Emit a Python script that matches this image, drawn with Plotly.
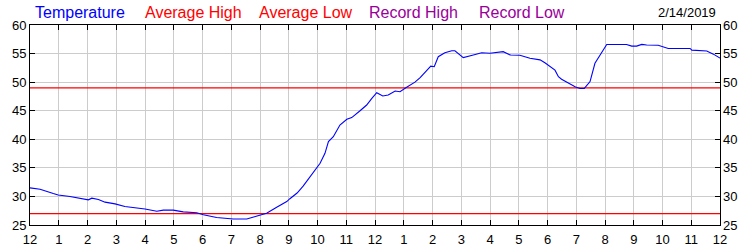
import plotly.graph_objects as go

# Hours since midnight (0 = 12 AM, 24 = next 12 AM) and temperature (°F)
hours = [0.0, 0.35, 0.81, 0.98, 1.39, 1.85, 2.03, 2.15, 2.38, 2.61, 2.96, 3.30, 3.71, 4.0,
         4.41, 4.64, 4.98, 5.33, 5.80, 6.03, 6.49, 7.07, 7.54, 8.0, 8.23, 8.58, 8.93, 9.04,
         9.29, 9.50, 9.74, 9.91, 10.09, 10.26, 10.38, 10.55, 10.78, 11.02, 11.19, 11.48,
         11.71, 11.89, 12.06, 12.27, 12.46, 12.70, 12.87, 13.10, 13.39, 13.57, 13.80, 13.94,
         14.06, 14.20, 14.43, 14.67, 14.78, 15.07, 15.42, 15.71, 16.0, 16.46, 16.70, 17.04,
         17.39, 17.74, 17.91, 18.26, 18.38, 18.49, 18.96, 19.13, 19.28, 19.48, 19.65, 19.89,
         20.06, 20.75, 20.93, 21.10, 21.28, 21.45, 21.85, 22.20, 22.96, 23.02, 23.54, 23.77, 24.0]
temps = [31.5, 31.25, 30.5, 30.25, 30.0, 29.5, 29.4, 29.7, 29.45, 29.0, 28.7, 28.25, 28.0, 27.8,
         27.4, 27.6, 27.6, 27.3, 27.15, 26.8, 26.3, 26.05, 26.05, 26.75, 27.05, 28.1, 29.1, 29.6,
         30.6, 31.8, 33.4, 34.74, 35.8, 37.55, 39.6, 40.45, 42.5, 43.5, 43.8, 45.0,
         46.0, 47.17, 48.15, 47.57, 47.75, 48.45, 48.33, 49.1, 50.0, 50.8, 52.0, 52.8,
         52.7, 54.45, 55.15, 55.5, 55.5, 54.3, 54.75, 55.15, 55.05, 55.33, 54.75, 54.7,
         54.17, 53.9, 53.4, 52.1, 50.95, 50.5, 49.2, 48.9, 48.9, 50.1, 53.3, 55.15,
         56.6, 56.6, 56.3, 56.3, 56.6, 56.5, 56.45, 55.9, 55.9, 55.6, 55.45, 54.9, 54.2]
avg_high = 49
avg_low = 27
x_tick_vals = list(range(0, 25))
x_tick_text = ["12"] + [str(i) for i in range(1, 12)] + ["12"] + [str(i) for i in range(1, 12)] + ["12"]
y_tick_vals = [25, 30, 35, 40, 45, 50, 55, 60]
legend_items = [("Temperature", "#0000ff"), ("Average High", "#ff0000"), ("Average Low", "#ff0000"),
                ("Record High", "#990099"), ("Record Low", "#990099")]
legend_x = [33, 143, 257, 367, 477]
date_text = "2/14/2019"

FONT = "Liberation Sans, Arial, sans-serif"
L, R, T, B = 30, 30, 25, 25
W, H = 750, 250
PW, PH = W - L - R, H - T - B


def px_to_paper(xp, yp):
    return (xp - L) / PW, (H - B - yp) / PH


fig = go.Figure()
fig.add_trace(go.Scatter(x=[0, 24], y=[avg_high, avg_high], mode="lines",
                         line=dict(color="#ff0000", width=1.3), hoverinfo="skip"))
fig.add_trace(go.Scatter(x=[0, 24], y=[avg_low, avg_low], mode="lines",
                         line=dict(color="#ff0000", width=1.3), hoverinfo="skip"))
fig.add_trace(go.Scatter(x=hours, y=temps, mode="lines",
                         line=dict(color="#0000ff", width=1.1)))
# invisible trace for right axis
fig.add_trace(go.Scatter(x=[0], y=[25], yaxis="y2", mode="markers",
                         marker=dict(opacity=0), hoverinfo="skip"))

axis_common = dict(showline=True, linecolor="black", linewidth=1, gridcolor="#cccccc",
                   gridwidth=1, ticks="inside", ticklen=5, tickcolor="black",
                   tickfont=dict(family=FONT, size=13, color="black"), zeroline=False,
                   automargin=False)

fig.update_layout(
    width=W, height=H,
    margin=dict(l=L, r=R, t=T, b=B),
    paper_bgcolor="white", plot_bgcolor="white",
    showlegend=False,
    xaxis=dict(range=[0, 24], tickvals=x_tick_vals, ticktext=x_tick_text, mirror="ticks",
               ticklabelstandoff=2, **axis_common),
    yaxis=dict(range=[25, 60], tickvals=y_tick_vals, mirror="ticks", **axis_common),
    yaxis2=dict(range=[25, 60], tickvals=y_tick_vals, overlaying="y", side="right",
                showgrid=False, showline=False, ticks="", zeroline=False, ticklabelstandoff=2,
                automargin=False, tickfont=dict(family=FONT, size=13, color="black")),
)

for (text, color), xp in zip(legend_items, legend_x):
    ax, ay = px_to_paper(xp, 13)
    fig.add_annotation(text=text, x=ax, y=ay, xref="paper", yref="paper",
                       xanchor="left", yanchor="middle", showarrow=False,
                       font=dict(family=FONT, size=16, color=color))
ax, ay = px_to_paper(718, 13)
fig.add_annotation(text=date_text, x=ax, y=ay, xref="paper", yref="paper",
                   xanchor="right", yanchor="middle", showarrow=False,
                   font=dict(family=FONT, size=13, color="black"))

fig.write_html("out.html")
